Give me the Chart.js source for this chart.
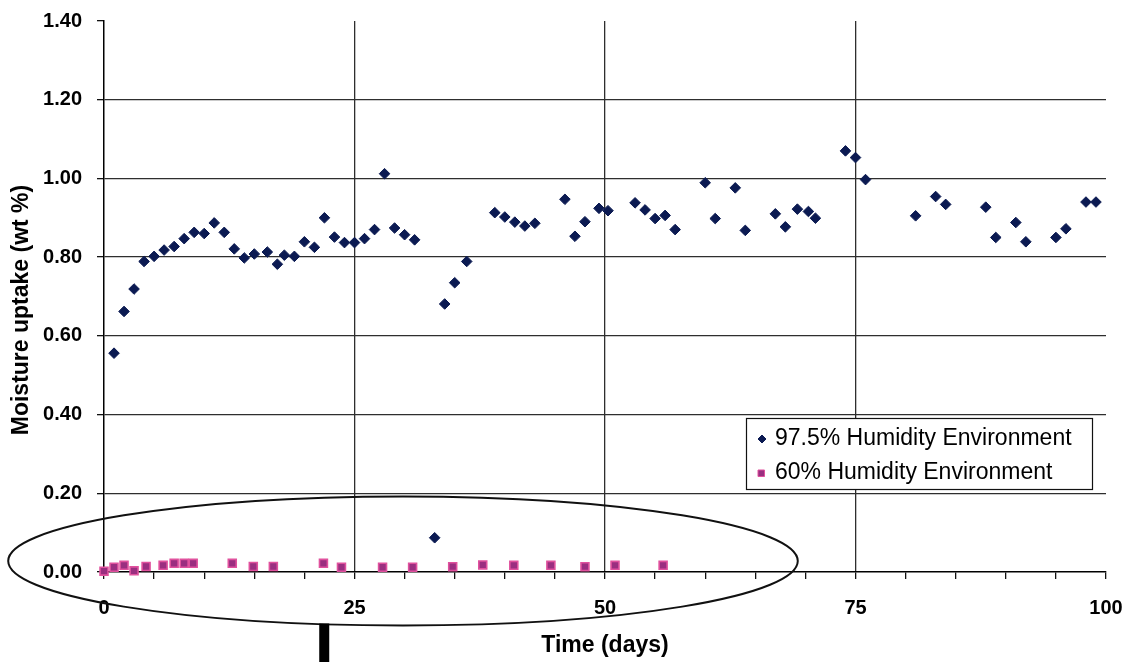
<!DOCTYPE html>
<html>
<head>
<meta charset="utf-8">
<title>Moisture uptake vs time</title>
<script src="https://cdn.jsdelivr.net/npm/chart.js@4.4.1/dist/chart.umd.min.js"></script>
<style>
  html, body { margin: 0; padding: 0; background: #ffffff; }
  #wrap { position: relative; width: 1129px; height: 662px; }
</style>
</head>
<body>
<div id="wrap"><canvas id="chart" width="1129" height="662"></canvas></div>
<script>
// Moisture uptake (wt %) measured over time, two storage humidities
const highDays = [1, 2, 3, 4, 5, 6, 7, 8, 9, 10, 11, 12, 13, 14, 15, 16.3, 17.3, 18, 19, 20,
  21, 22, 23, 24, 25, 26, 27, 28, 29, 30, 31, 33, 34, 35, 36.2, 39, 40, 41, 42, 43,
  46, 47, 48, 49.4, 50.3, 53, 54, 55, 56, 57, 60, 61, 63, 64, 67, 68, 69.2, 70.3, 71,
  74, 75, 76, 81, 83, 84, 88, 89, 91, 92, 95, 96, 98, 99];
const highUptake = [0.556, 0.662, 0.719, 0.789, 0.802, 0.818, 0.827, 0.847, 0.863, 0.860,
  0.887, 0.863, 0.821, 0.798, 0.808, 0.813, 0.782, 0.805, 0.802, 0.839,
  0.825, 0.900, 0.851, 0.837, 0.837, 0.847, 0.870, 1.012, 0.874, 0.857, 0.844, 0.087,
  0.681, 0.735, 0.789, 0.913, 0.902, 0.889, 0.879, 0.886,
  0.947, 0.853, 0.890, 0.924, 0.918, 0.938, 0.920, 0.898, 0.906, 0.870, 0.989, 0.898,
  0.976, 0.868, 0.910, 0.877, 0.922, 0.916, 0.899,
  1.070, 1.053, 0.997, 0.905, 0.954, 0.934, 0.927, 0.850, 0.888, 0.839, 0.850, 0.872,
  0.940, 0.940];

const lowDays = [0, 1, 2, 3, 4.2, 5.9, 7, 8, 8.9, 12.8, 14.9, 16.9, 21.9, 23.7, 27.8, 30.8,
  34.8, 37.8, 40.9, 44.6, 48, 51, 55.8];
const lowUptake = [0.002, 0.012, 0.017, 0.003, 0.014, 0.017, 0.022, 0.022, 0.022, 0.022,
  0.014, 0.014, 0.022, 0.012, 0.012, 0.012, 0.0135, 0.018, 0.017, 0.017, 0.0135,
  0.017, 0.017];

const seriesNames = ['97.5% Humidity Environment', '60% Humidity Environment'];
const xTitle = 'Time (days)';
const yTitle = 'Moisture uptake (wt %)';
const xLabelled = [0, 25, 50, 75, 100];

// Highlighted low-humidity region (centre and half-axes in data units)
const ringCentre = { x: 29.84, y: 0.028 };
const ringHalf = { x: 39.4, y: 0.164 };

const FONT = '"Liberation Sans", Arial, sans-serif';
const NAVY = '#0b1a52';
const PINK_FILL = '#9a2f80';
const PINK_EDGE = '#e0519d';
const GRID = '#2e2e2e';

const toPoints = (xs, ys) => xs.map((x, i) => ({ x: x, y: ys[i] }));

// Axis title along the y axis, ellipse around the 60% series, marker bar below the axis, legend box
const overlay = {
  id: 'overlay',
  afterDraw(chart) {
    const { ctx, scales: { x, y } } = chart;
    ctx.save();
    // ellipse
    const cx = x.getPixelForValue(ringCentre.x);
    const cy = y.getPixelForValue(ringCentre.y);
    const rx = x.getPixelForValue(ringCentre.x + ringHalf.x) - cx;
    const ry = cy - y.getPixelForValue(ringCentre.y + ringHalf.y);
    ctx.beginPath();
    ctx.ellipse(cx, cy, rx, ry, 0, 0, Math.PI * 2);
    ctx.lineWidth = 2;
    ctx.strokeStyle = '#111';
    ctx.stroke();
    // pointer bar under the time axis
    const bx = x.getPixelForValue(21.98);
    ctx.fillStyle = '#000';
    ctx.fillRect(bx - 5, cy + ry - 2, 10, chart.height - (cy + ry - 2));
    // y axis title
    ctx.translate(22, 310);
    ctx.rotate(-Math.PI / 2);
    ctx.font = 'bold 23px ' + FONT;
    ctx.fillStyle = '#000';
    ctx.textAlign = 'center';
    ctx.textBaseline = 'middle';
    ctx.fillText(yTitle, 0, 0);
    ctx.restore();

    // legend box
    const ds = chart.data.datasets;
    const lx = 746, ly = 418, lw = 346, lh = 71;
    ctx.save();
    ctx.fillStyle = '#fff';
    ctx.fillRect(lx, ly, lw, lh);
    ctx.lineWidth = 1.2;
    ctx.strokeStyle = '#111';
    ctx.strokeRect(lx + 0.5, ly + 0.5, lw, lh);
    ctx.font = '23px ' + FONT;
    ctx.textBaseline = 'middle';
    ctx.textAlign = 'left';
    const rows = [439, 473];
    ds.forEach((d, i) => {
      const my = rows[i];
      ctx.fillStyle = d.backgroundColor;
      ctx.strokeStyle = d.borderColor;
      ctx.lineWidth = 1;
      ctx.beginPath();
      if (d.pointStyle === 'rectRot') {
        ctx.moveTo(762 - 4, my); ctx.lineTo(762, my - 4);
        ctx.lineTo(762 + 4, my); ctx.lineTo(762, my + 4);
      } else {
        ctx.rect(758, my - 3, 6.5, 6.5);
      }
      ctx.closePath();
      ctx.fill();
      ctx.stroke();
      ctx.fillStyle = '#000';
      ctx.fillText(d.label, 775, my);
    });
    ctx.restore();
  }
};

new Chart(document.getElementById('chart'), {
  type: 'scatter',
  data: {
    datasets: [
      {
        label: seriesNames[0],
        data: toPoints(highDays, highUptake),
        pointStyle: 'rectRot',
        pointRadius: 5.3,
        backgroundColor: NAVY,
        borderColor: NAVY,
        borderWidth: 1,
        clip: false
      },
      {
        label: seriesNames[1],
        data: toPoints(lowDays, lowUptake),
        pointStyle: 'rect',
        pointRadius: 5.6,
        backgroundColor: PINK_FILL,
        borderColor: PINK_EDGE,
        borderWidth: 1.6,
        clip: false
      }
    ]
  },
  options: {
    responsive: false,
    animation: false,
    events: [],
    layout: { padding: { top: 21, right: 23, left: 0, bottom: 0 } },
    plugins: {
      legend: { display: false },
      tooltip: { enabled: false }
    },
    scales: {
      x: {
        type: 'linear',
        min: 0,
        max: 100,
        afterFit(scale) {
          scale.height = 90;
          scale.paddingLeft = 0;
          scale.paddingRight = 0;
        },
        afterBuildTicks(scale) {
          const t = [];
          for (let v = 0; v <= 100; v += 5) t.push({ value: v });
          scale.ticks = t;
        },
        ticks: {
          autoSkip: false,
          maxRotation: 0,
          padding: 17,
          color: '#000',
          font: { family: FONT, size: 20, weight: 'bold' },
          callback: (v) => (xLabelled.includes(v) ? String(v) : '')
        },
        grid: {
          color: (c) => (c.tick && c.tick.value % 25 === 0 && c.tick.value > 0 && c.tick.value < 100 ? GRID : 'rgba(0,0,0,0)'),
          tickColor: '#111',
          tickLength: 7,
          lineWidth: 1.3
        },
        border: { color: '#000', width: 1.5 },
        title: {
          display: true,
          text: xTitle,
          color: '#000',
          font: { family: FONT, size: 23, weight: 'bold' },
          padding: { top: 0, bottom: 3 }
        }
      },
      y: {
        type: 'linear',
        min: 0,
        max: 1.4,
        afterFit(scale) {
          scale.width = 104;
          scale.paddingTop = 0;
          scale.paddingBottom = 0;
        },
        ticks: {
          stepSize: 0.2,
          padding: 15,
          color: '#000',
          font: { family: FONT, size: 20, weight: 'bold' },
          callback: (v) => Number(v).toFixed(2)
        },
        grid: {
          color: (c) => (c.tick && c.tick.value > 0 && c.tick.value < 1.39 ? GRID : 'rgba(0,0,0,0)'),
          tickColor: '#111',
          tickLength: 7,
          lineWidth: 1.3
        },
        border: { color: '#000', width: 1.5 },
        title: { display: false }
      }
    }
  },
  plugins: [overlay]
});
</script>
</body>
</html>
